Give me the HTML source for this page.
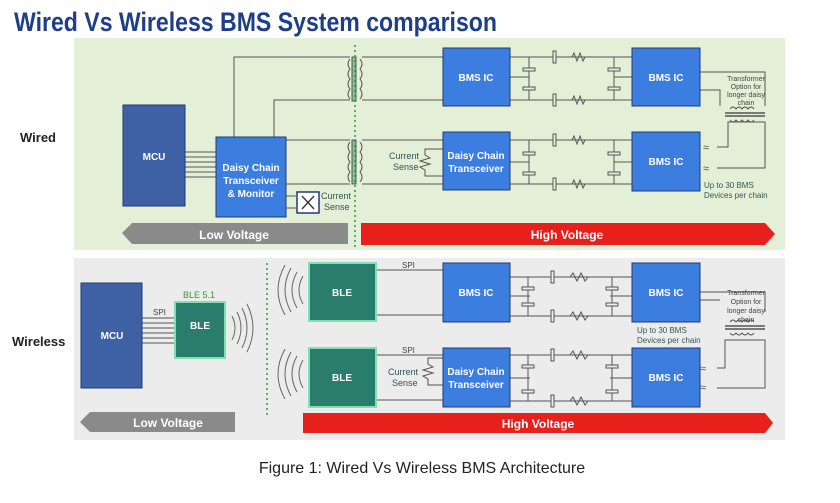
<!DOCTYPE html>
<html><head><meta charset="utf-8"><style>
html,body{margin:0;padding:0;background:#fff;width:840px;height:503px;overflow:hidden}
svg{display:block;font-family:"Liberation Sans",Arial,sans-serif}
</style></head><body>
<svg width="840" height="503" viewBox="0 0 840 503" xmlns="http://www.w3.org/2000/svg">
<text x="14" y="31" font-size="27" font-weight="bold" fill="#1e3f87" textLength="483" lengthAdjust="spacingAndGlyphs">Wired Vs Wireless BMS System comparison</text>

<!-- Top panel -->
<rect x="74" y="38" width="711" height="212" fill="#e4efd7"/>
<text x="20" y="142" font-size="13" font-weight="bold" fill="#222">Wired</text>
<g stroke="#555" stroke-width="1" fill="none">
 <line x1="185" y1="152" x2="216" y2="152"/><line x1="185" y1="157" x2="216" y2="157"/><line x1="185" y1="162" x2="216" y2="162"/><line x1="185" y1="167" x2="216" y2="167"/><line x1="185" y1="172" x2="216" y2="172"/><line x1="185" y1="177" x2="216" y2="177"/>
 <polyline points="234,137 234,57 350,57"/><polyline points="274,137 274,100 350,100"/>
 <polyline points="286,140 350,140"/><polyline points="286,184 350,184"/>
 <line x1="286" y1="196" x2="296" y2="196"/><line x1="286" y1="208" x2="296" y2="208"/>
 <line x1="362" y1="57" x2="443" y2="57"/><line x1="362" y1="100" x2="443" y2="100"/>
 <line x1="362" y1="140" x2="443" y2="140"/><line x1="362" y1="184" x2="443" y2="184"/>
 <polyline points="443,149 425,149 425,155 430,158 420,161 430,164 420,167 425,170 425,176 443,176"/>
 <line x1="510" y1="57" x2="632" y2="57"/><line x1="510" y1="100" x2="632" y2="100"/>
 <line x1="510" y1="140" x2="632" y2="140"/><line x1="510" y1="184" x2="632" y2="184"/>
 <line x1="510" y1="77" x2="529" y2="77"/><line x1="614" y1="77" x2="632" y2="77"/>
 <line x1="510" y1="162" x2="529" y2="162"/><line x1="614" y1="162" x2="632" y2="162"/>
 <line x1="529" y1="57" x2="529" y2="100"/><line x1="614" y1="57" x2="614" y2="100"/>
 <line x1="529" y1="140" x2="529" y2="184"/><line x1="614" y1="140" x2="614" y2="184"/>
 <polyline points="700,72 765,72 765,106"/><polyline points="700,90 720,90 720,106"/>
 <polyline points="717,147 728,147 728,122 765,122 765,168 717,168"/>
 <line x1="725" y1="113" x2="765" y2="113" stroke-width="1.5"/><line x1="725" y1="116" x2="765" y2="116" stroke-width="1.5"/>
 <path d="M730,109 q3,-4 6,0 q3,-4 6,0 q3,-4 6,0 q3,-4 6,0"/><path d="M730,120 q3,4 6,0 q3,4 6,0 q3,4 6,0 q3,4 6,0"/>
</g>
<text x="703" y="151" font-size="11" fill="#555">≈</text><text x="703" y="172" font-size="11" fill="#555">≈</text>
<g stroke="#555" stroke-width="1" fill="#e4efd7">
 <rect x="523" y="68" width="12" height="3"/><rect x="523" y="87" width="12" height="3"/>
 <rect x="608" y="68" width="12" height="3"/><rect x="608" y="87" width="12" height="3"/>
 <rect x="523" y="152" width="12" height="3"/><rect x="523" y="172" width="12" height="3"/>
 <rect x="608" y="152" width="12" height="3"/><rect x="608" y="172" width="12" height="3"/>
 <rect x="553" y="51" width="3" height="12"/><rect x="553" y="94" width="3" height="12"/>
 <rect x="553" y="134" width="3" height="12"/><rect x="553" y="178" width="3" height="12"/>
</g>
<g stroke="#555" fill="none">
 <path d="M572,57 l2,-4 l3,8 l3,-8 l3,8 l2,-4"/><path d="M572,100 l2,-4 l3,8 l3,-8 l3,8 l2,-4"/>
 <path d="M572,140 l2,-4 l3,8 l3,-8 l3,8 l2,-4"/><path d="M572,184 l2,-4 l3,8 l3,-8 l3,8 l2,-4"/>
 <rect x="352" y="57" width="4" height="44" fill="#8bc48a"/><rect x="352" y="140" width="4" height="44" fill="#8bc48a"/>
 <path d="M350,59 q-4,5 0,10 q-4,5 0,10 q-4,5 0,10 q-4,5 0,10"/>
 <path d="M360,59 q4,5 0,10 q4,5 0,10 q4,5 0,10 q4,5 0,10"/>
 <path d="M350,142 q-4,5 0,10 q-4,5 0,10 q-4,5 0,10 q-4,5 0,10"/>
 <path d="M360,142 q4,5 0,10 q4,5 0,10 q4,5 0,10 q4,5 0,10"/>
</g>
<line x1="355" y1="45" x2="355" y2="250" stroke="#2a9a4a" stroke-width="1.5" stroke-dasharray="2,3"/>
<g font-weight="bold" fill="#fff" text-anchor="middle" font-size="10">
 <rect x="123" y="105" width="62" height="101" fill="#3e61a6" stroke="#1f3a75"/>
 <text x="154" y="160">MCU</text>
 <rect x="216" y="137" width="70" height="80" fill="#3c7de0" stroke="#1f3a75"/>
 <text x="251" y="171">Daisy Chain</text><text x="251" y="184">Transceiver</text><text x="251" y="197">&amp; Monitor</text>
 <rect x="443" y="48" width="67" height="58" fill="#3c7de0" stroke="#1f3a75"/><text x="476" y="81">BMS IC</text>
 <rect x="632" y="48" width="68" height="58" fill="#3c7de0" stroke="#1f3a75"/><text x="666" y="81">BMS IC</text>
 <rect x="443" y="132" width="67" height="58" fill="#3c7de0" stroke="#1f3a75"/><text x="476" y="159">Daisy Chain</text><text x="476" y="172">Transceiver</text>
 <rect x="632" y="132" width="68" height="59" fill="#3c7de0" stroke="#1f3a75"/><text x="666" y="165">BMS IC</text>
</g>
<rect x="297" y="192" width="22" height="21" fill="#fff" stroke="#1f3a75" stroke-width="1.5"/>
<path d="M302,196 l12,13 M314,196 l-12,13" stroke="#333" stroke-width="1.3"/>
<g font-size="9" fill="#355">
 <text x="321" y="199">Current</text><text x="324" y="210">Sense</text>
 <text x="389" y="159">Current</text><text x="393" y="170">Sense</text>
 <text x="704" y="188" font-size="8">Up to 30 BMS</text><text x="704" y="198" font-size="8">Devices per chain</text>
</g>
<g font-size="7" fill="#444" text-anchor="middle">
 <text x="746" y="81">Transformer</text><text x="746" y="89">Option for</text><text x="746" y="97">longer daisy</text><text x="746" y="105">chain</text>
</g>
<polygon points="122,233 132,223 348,223 348,244 132,244" fill="#8a8a8a"/>
<text x="234" y="239" font-size="12" font-weight="bold" fill="#fff" text-anchor="middle">Low Voltage</text>
<polygon points="361,223 765,223 775,234 765,245 361,245" fill="#e8201c"/>
<text x="567" y="239" font-size="12" font-weight="bold" fill="#fff" text-anchor="middle">High Voltage</text>

<!-- Bottom panel -->
<rect x="74" y="258" width="711" height="182" fill="#ececec"/>
<text x="12" y="346" font-size="13" font-weight="bold" fill="#222">Wireless</text>
<g stroke="#555" stroke-width="1" fill="none">
 <line x1="142" y1="318" x2="175" y2="318"/><line x1="142" y1="323" x2="175" y2="323"/><line x1="142" y1="328" x2="175" y2="328"/><line x1="142" y1="333" x2="175" y2="333"/><line x1="142" y1="338" x2="175" y2="338"/><line x1="142" y1="343" x2="175" y2="343"/>
 <line x1="375" y1="270" x2="443" y2="270"/><line x1="375" y1="315" x2="443" y2="315"/>
 <line x1="375" y1="355" x2="443" y2="355"/><line x1="375" y1="400" x2="443" y2="400"/>
 <polyline points="443,358 428,358 428,364 433,367 423,370 433,373 423,376 428,379 428,385 443,385"/>
 <line x1="510" y1="277" x2="632" y2="277"/><line x1="510" y1="316" x2="632" y2="316"/>
 <line x1="510" y1="355" x2="632" y2="355"/><line x1="510" y1="401" x2="632" y2="401"/>
 <line x1="510" y1="296" x2="530" y2="296"/><line x1="610" y1="296" x2="632" y2="296"/>
 <line x1="510" y1="378" x2="530" y2="378"/><line x1="610" y1="378" x2="632" y2="378"/>
 <line x1="528" y1="277" x2="528" y2="316"/><line x1="612" y1="277" x2="612" y2="316"/>
 <line x1="528" y1="355" x2="528" y2="401"/><line x1="612" y1="355" x2="612" y2="401"/>
 <polyline points="700,292 765,292 765,312"/><polyline points="700,300 720,300"/>
 <polyline points="717,368 725,368 725,340 765,340 765,368"/><polyline points="717,388 765,388 765,368"/>
 <line x1="725" y1="326" x2="765" y2="326" stroke-width="1.5"/><line x1="725" y1="329" x2="765" y2="329" stroke-width="1.5"/>
 <path d="M730,322 q3,-4 6,0 q3,-4 6,0 q3,-4 6,0 q3,-4 6,0"/><path d="M730,333 q3,4 6,0 q3,4 6,0 q3,4 6,0 q3,4 6,0"/>
 <path d="M232,316 q6,12 0,24 M237,312 q8,16 0,32 M242,308 q10,20 0,40 M247,304 q12,24 0,48" stroke="#666"/>
 <path d="M303,276 q-8,14 0,28 M297,272 q-10,18 0,36 M291,268 q-12,22 0,44 M285,265 q-14,25 0,50" stroke="#666"/>
 <path d="M303,360 q-8,14 0,28 M297,356 q-10,18 0,36 M291,352 q-12,22 0,44 M285,349 q-14,25 0,50" stroke="#666"/>
</g>
<text x="700" y="372" font-size="11" fill="#555">≈</text><text x="700" y="391" font-size="11" fill="#555">≈</text>
<g stroke="#555" stroke-width="1" fill="#ececec">
 <rect x="522" y="287" width="12" height="3"/><rect x="522" y="303" width="12" height="3"/>
 <rect x="606" y="287" width="12" height="3"/><rect x="606" y="303" width="12" height="3"/>
 <rect x="522" y="365" width="12" height="3"/><rect x="522" y="390" width="12" height="3"/>
 <rect x="606" y="365" width="12" height="3"/><rect x="606" y="390" width="12" height="3"/>
 <rect x="551" y="271" width="3" height="12"/><rect x="551" y="310" width="3" height="12"/>
 <rect x="551" y="349" width="3" height="12"/><rect x="551" y="395" width="3" height="12"/>
</g>
<g stroke="#555" fill="none">
 <path d="M570,277 l3,-4 l4,8 l4,-8 l4,8 l3,-4"/><path d="M570,316 l3,-4 l4,8 l4,-8 l4,8 l3,-4"/>
 <path d="M570,355 l3,-4 l4,8 l4,-8 l4,8 l3,-4"/><path d="M570,401 l3,-4 l4,8 l4,-8 l4,8 l3,-4"/>
</g>
<line x1="267" y1="263" x2="267" y2="415" stroke="#2a9a4a" stroke-width="1.5" stroke-dasharray="2,3"/>
<g font-weight="bold" fill="#fff" text-anchor="middle" font-size="10">
 <rect x="81" y="283" width="61" height="105" fill="#3e61a6" stroke="#1f3a75"/><text x="112" y="339">MCU</text>
 <rect x="175" y="302" width="50" height="56" fill="#2a7d6c" stroke="#7fe0b0" stroke-width="2"/><text x="200" y="329">BLE</text>
 <rect x="309" y="263" width="67" height="58" fill="#2a7d6c" stroke="#7fe0b0" stroke-width="2"/><text x="342" y="296">BLE</text>
 <rect x="309" y="348" width="67" height="59" fill="#2a7d6c" stroke="#7fe0b0" stroke-width="2"/><text x="342" y="381">BLE</text>
 <rect x="443" y="263" width="67" height="59" fill="#3c7de0" stroke="#1f3a75"/><text x="476" y="296">BMS IC</text>
 <rect x="632" y="263" width="68" height="59" fill="#3c7de0" stroke="#1f3a75"/><text x="666" y="296">BMS IC</text>
 <rect x="443" y="348" width="67" height="59" fill="#3c7de0" stroke="#1f3a75"/><text x="476" y="375">Daisy Chain</text><text x="476" y="388">Transceiver</text>
 <rect x="632" y="348" width="68" height="59" fill="#3c7de0" stroke="#1f3a75"/><text x="666" y="381">BMS IC</text>
</g>
<text x="183" y="298" font-size="9" fill="#3a9a2a">BLE 5.1</text>
<g font-size="8" fill="#444">
 <text x="153" y="315">SPI</text><text x="402" y="268">SPI</text><text x="402" y="353">SPI</text>
</g>
<g font-size="9" fill="#355">
 <text x="388" y="375">Current</text><text x="392" y="386">Sense</text>
 <text x="637" y="333" font-size="8">Up to 30 BMS</text><text x="637" y="343" font-size="8">Devices per chain</text>
</g>
<g font-size="7" fill="#444" text-anchor="middle">
 <text x="746" y="295">Transformer</text><text x="746" y="304">Option for</text><text x="746" y="313">longer daisy</text><text x="746" y="322">chain</text>
</g>
<polygon points="80,422 90,412 235,412 235,432 90,432" fill="#8a8a8a"/>
<text x="168" y="427" font-size="12" font-weight="bold" fill="#fff" text-anchor="middle">Low Voltage</text>
<polygon points="303,413 765,413 773,423 765,433 303,433" fill="#e8201c"/>
<text x="538" y="428" font-size="12" font-weight="bold" fill="#fff" text-anchor="middle">High Voltage</text>

<text x="422" y="473" font-size="16" fill="#222" text-anchor="middle">Figure 1: Wired Vs Wireless BMS Architecture</text>
</svg>
</body></html>
